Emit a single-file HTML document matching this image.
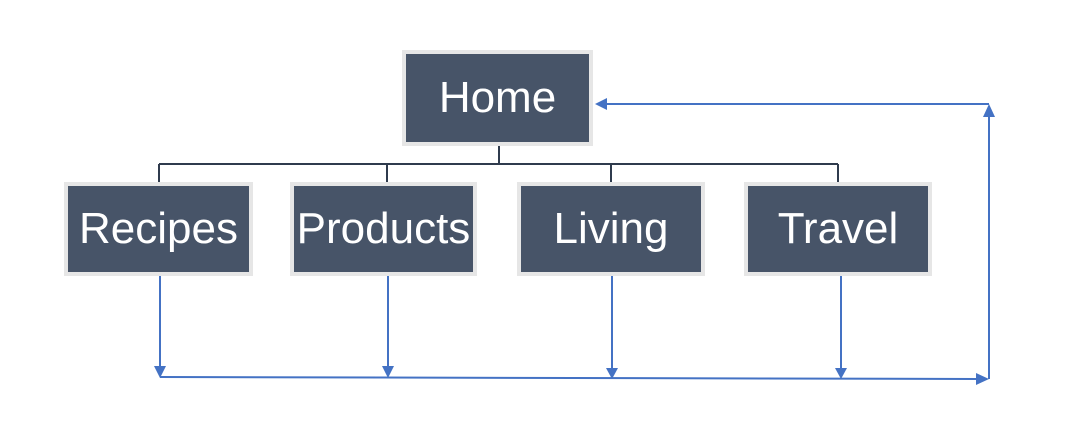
<!DOCTYPE html>
<html><head><style>
body{margin:0;background:#fff;width:1076px;height:430px;overflow:hidden;font-family:"Liberation Sans","DejaVu Sans",sans-serif}
.b{position:absolute;box-sizing:border-box;background:#475468;border:4px solid #e6e6e6;color:#fff;font-size:44px;display:flex;align-items:center;justify-content:center;white-space:nowrap}
</style></head><body>
<svg width="1076" height="430" style="position:absolute;left:0;top:0">
<g stroke="#2f3b4d" stroke-width="2" fill="none">
<line x1="499" y1="146" x2="499" y2="164"/>
<line x1="159" y1="164" x2="838" y2="164"/>
<line x1="159" y1="164" x2="159" y2="183"/>
<line x1="387" y1="164" x2="387" y2="183"/>
<line x1="611" y1="164" x2="611" y2="183"/>
<line x1="838" y1="164" x2="838" y2="183"/>
</g>
<g stroke="#4472c4" stroke-width="2" fill="none">
<line x1="160" y1="276" x2="160" y2="368"/>
<line x1="388" y1="276" x2="388" y2="368"/>
<line x1="612" y1="276" x2="612" y2="370"/>
<line x1="841" y1="276" x2="841" y2="370"/>
<line x1="160" y1="377" x2="978" y2="379"/>
<line x1="989" y1="379" x2="989" y2="116"/>
<line x1="989" y1="104" x2="606" y2="104"/>
</g>
<g fill="#4472c4">
<polygon points="154,366 166,366 160,378"/>
<polygon points="382,366 394,366 388,378"/>
<polygon points="606,368 618,368 612,379"/>
<polygon points="835,368 847,368 841,379"/>
<polygon points="976,373 976,385 989,379"/>
<polygon points="983,117 995,117 989,104"/>
<polygon points="607,98 607,110 595,104"/>
</g>
</svg>
<div class="b" style="left:402px;top:50px;width:191px;height:96px">Home</div>
<div class="b" style="left:64px;top:182px;width:189px;height:94px">Recipes</div>
<div class="b" style="left:290px;top:182px;width:187px;height:94px">Products</div>
<div class="b" style="left:517px;top:182px;width:188px;height:94px">Living</div>
<div class="b" style="left:744px;top:182px;width:188px;height:94px">Travel</div>
</body></html>
